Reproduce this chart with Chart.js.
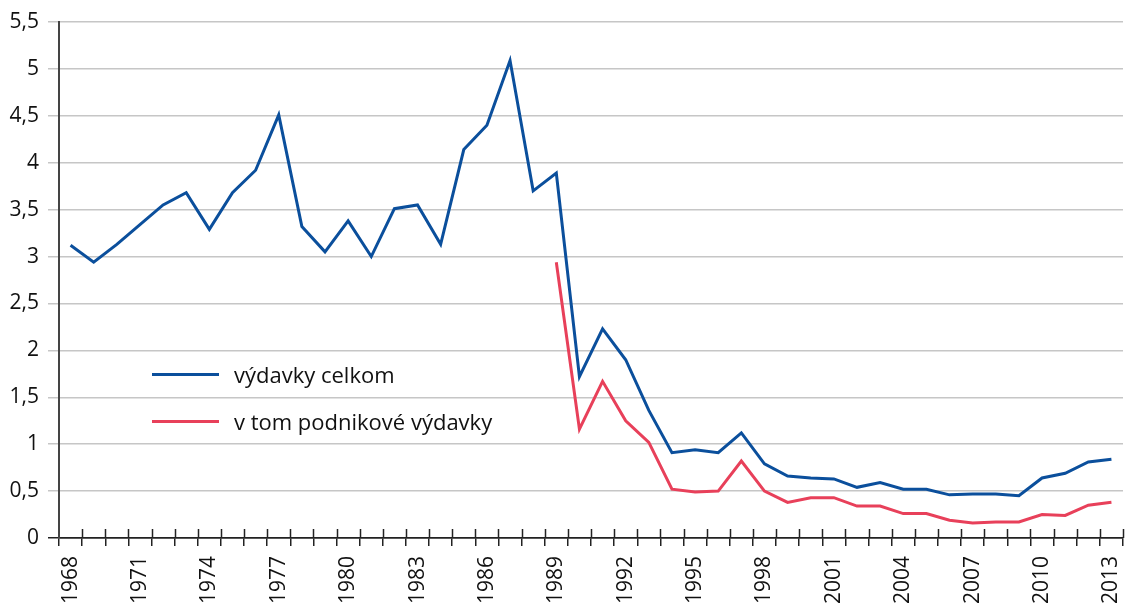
<!DOCTYPE html>
<html>
<head>
<meta charset="utf-8">
<script src="https://cdn.jsdelivr.net/npm/chart.js@4"></script>
<style>
  html, body { margin: 0; padding: 0; background: #fff; }
  #wrap { position: relative; width: 1126px; height: 607px; }
  .legend { position: absolute; left: 152px; height: 30px; font-family: "Open Sans", sans-serif; font-size: 22px; line-height: 30px; color: #111; display: flex; align-items: center; }
  .legend i { display: inline-block; width: 67px; height: 3px; margin-right: 15px; }
</style>
</head>
<body>
<div id="wrap">
  <canvas id="chart" width="1126" height="607"></canvas>
  <div class="legend" style="top:359px"><i style="background:#0b4f9c"></i>výdavky celkom</div>
  <div class="legend" style="top:406px"><i style="background:#e8405a"></i>v tom podnikové výdavky</div>
</div>
<script>
// roky 1968 - 2013
const years = [];
for (let y = 1968; y <= 2013; y++) years.push(String(y));

// výdavky celkom (% HDP)
const totalSpend = [
  3.12, 2.94, 3.13, 3.34, 3.55, 3.68, 3.29, 3.68, 3.92, 4.51,
  3.32, 3.05, 3.38, 3.00, 3.51, 3.55, 3.13, 4.14, 4.40, 5.09,
  3.70, 3.89, 1.72, 2.23, 1.90, 1.36, 0.91, 0.94, 0.91, 1.12,
  0.79, 0.66, 0.64, 0.63, 0.54, 0.59, 0.52, 0.52, 0.46, 0.47,
  0.47, 0.45, 0.64, 0.69, 0.81, 0.84
];

// v tom podnikové výdavky (od 1989)
const businessSpend = [
  null, null, null, null, null, null, null, null, null, null,
  null, null, null, null, null, null, null, null, null, null,
  null, 2.94, 1.16, 1.67, 1.25, 1.02, 0.52, 0.49, 0.50, 0.82,
  0.50, 0.38, 0.43, 0.43, 0.34, 0.34, 0.26, 0.26, 0.19, 0.16,
  0.17, 0.17, 0.25, 0.24, 0.35, 0.38
];

const seriesNames = ['výdavky celkom', 'v tom podnikové výdavky'];
const fontFamily = '"Open Sans", sans-serif';

// kratke ciarky nad osou x (Chart.js kresli tick len smerom von)
const upperTicks = {
  id: 'upperTicks',
  afterDraw(chart) {
    const xs = chart.scales.x;
    const ctx = chart.ctx;
    const w = (xs.right - xs.left) / years.length;
    ctx.save();
    ctx.strokeStyle = '#222';
    ctx.lineWidth = 1.5;
    ctx.beginPath();
    for (let i = 1; i <= years.length; i++) {
      const px = Math.round(xs.left + i * w) + 0.5;
      ctx.moveTo(px, xs.top - 9);
      ctx.lineTo(px, xs.top);
    }
    ctx.stroke();
    ctx.restore();
  }
};

new Chart(document.getElementById('chart'), {
  type: 'line',
  data: {
    labels: years,
    datasets: [
      {
        label: seriesNames[0],
        data: totalSpend,
        borderColor: '#0b4f9c',
        borderWidth: 3,
        pointRadius: 0,
        tension: 0,
        fill: false
      },
      {
        label: seriesNames[1],
        data: businessSpend,
        borderColor: '#e8405a',
        borderWidth: 3,
        pointRadius: 0,
        tension: 0,
        fill: false,
        spanGaps: false
      }
    ]
  },
  options: {
    responsive: false,
    animation: false,
    layout: { padding: { top: 22, right: 3, left: 0, bottom: 0 } },
    plugins: { legend: { display: false }, tooltip: { enabled: false } },
    scales: {
      x: {
        offset: true,
        grid: { offset: true, drawOnChartArea: false, drawTicks: true, tickLength: 8, color: '#222', lineWidth: 1.5 },
        border: { color: '#222', width: 1.5 },
        ticks: {
          autoSkip: false,
          minRotation: 90,
          maxRotation: 90,
          padding: 10,
          color: '#111',
          font: { family: fontFamily, size: 21 },
          callback: (v, i) => (i % 3 === 0 ? years[i] : '')
        },
        afterFit: (s) => { s.height = 69; s.paddingLeft = 0; s.paddingRight = 0; }
      },
      y: {
        min: 0,
        max: 5.5,
        grid: {
          color: (c) => (c.tick && c.tick.value === 0 ? '#222' : '#c6c6c6'),
          lineWidth: 1.5,
          tickLength: 11
        },
        border: { color: '#444', width: 2 },
        ticks: {
          stepSize: 0.5,
          padding: 9,
          color: '#111',
          font: { family: fontFamily, size: 21 },
          callback: (v) => String(v).replace('.', ',')
        },
        afterFit: (s) => { s.width = 59; }
      }
    }
  },
  plugins: [upperTicks]
});
</script>
</body>
</html>
